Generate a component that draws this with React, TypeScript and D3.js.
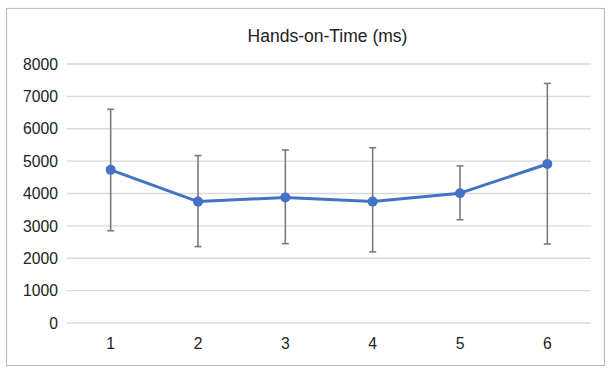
import React from 'react';
import * as d3 from 'd3';

const categories = ['1', '2', '3', '4', '5', '6'];
const means = [4730, 3750, 3880, 3750, 4010, 4910];
const upper = [6600, 5170, 5345, 5415, 4850, 7400];
const lower = [2850, 2360, 2450, 2195, 3190, 2440];
const yTicks = [0, 1000, 2000, 3000, 4000, 5000, 6000, 7000, 8000];
const title = 'Hands-on-Time (ms)';

const width = 614;
const height = 375;
const font = '"Liberation Sans", Arial, sans-serif';

const x = d3.scaleBand<string>().domain(categories).range([67, 591]).padding(0);
const y = d3.scaleLinear().domain([0, 8000]).range([323, 64]);

const App = () => {
  const cx = (c: string) => (x(c) ?? 0) + x.bandwidth() / 2;
  const line = d3.line<number>()
    .x((_, i) => cx(categories[i]))
    .y(d => y(d));

  return (
    <svg width={width} height={height} style={{ position: 'absolute', left: 0, top: 0 }}>
      <rect x={0} y={0} width={width} height={height} fill="#fff" />
      <rect x={6.5} y={8.5} width={598} height={357} fill="#fff" stroke="#bfbfbf" strokeWidth={1.2} />
      <text x={327.5} y={42} textAnchor="middle" fontFamily={font} fontSize={17.5} fill="#222">{title}</text>
      {yTicks.map(t => (
        <g key={t}>
          <line x1={67} x2={591} y1={y(t)} y2={y(t)} stroke="#d9d9d9" strokeWidth={1.3} />
          <text x={58} y={y(t)} dy="0.36em" textAnchor="end" fontFamily={font} fontSize={15.7} fill="#222">{t}</text>
        </g>
      ))}
      {categories.map(c => (
        <text key={c} x={cx(c)} y={349} textAnchor="middle" fontFamily={font} fontSize={15.7} fill="#222">{c}</text>
      ))}
      {categories.map((c, i) => (
        <g key={c} stroke="#7a7a7a" strokeWidth={1.6}>
          <line x1={cx(c)} x2={cx(c)} y1={y(upper[i])} y2={y(lower[i])} />
          <line x1={cx(c) - 3.5} x2={cx(c) + 3.5} y1={y(upper[i])} y2={y(upper[i])} />
          <line x1={cx(c) - 3.5} x2={cx(c) + 3.5} y1={y(lower[i])} y2={y(lower[i])} />
        </g>
      ))}
      <path d={line(means) ?? ''} fill="none" stroke="#4472c4" strokeWidth={3} strokeLinejoin="round" />
      {means.map((m, i) => (
        <circle key={i} cx={cx(categories[i])} cy={y(m)} r={5} fill="#4472c4" />
      ))}
    </svg>
  );
};

export default App;
